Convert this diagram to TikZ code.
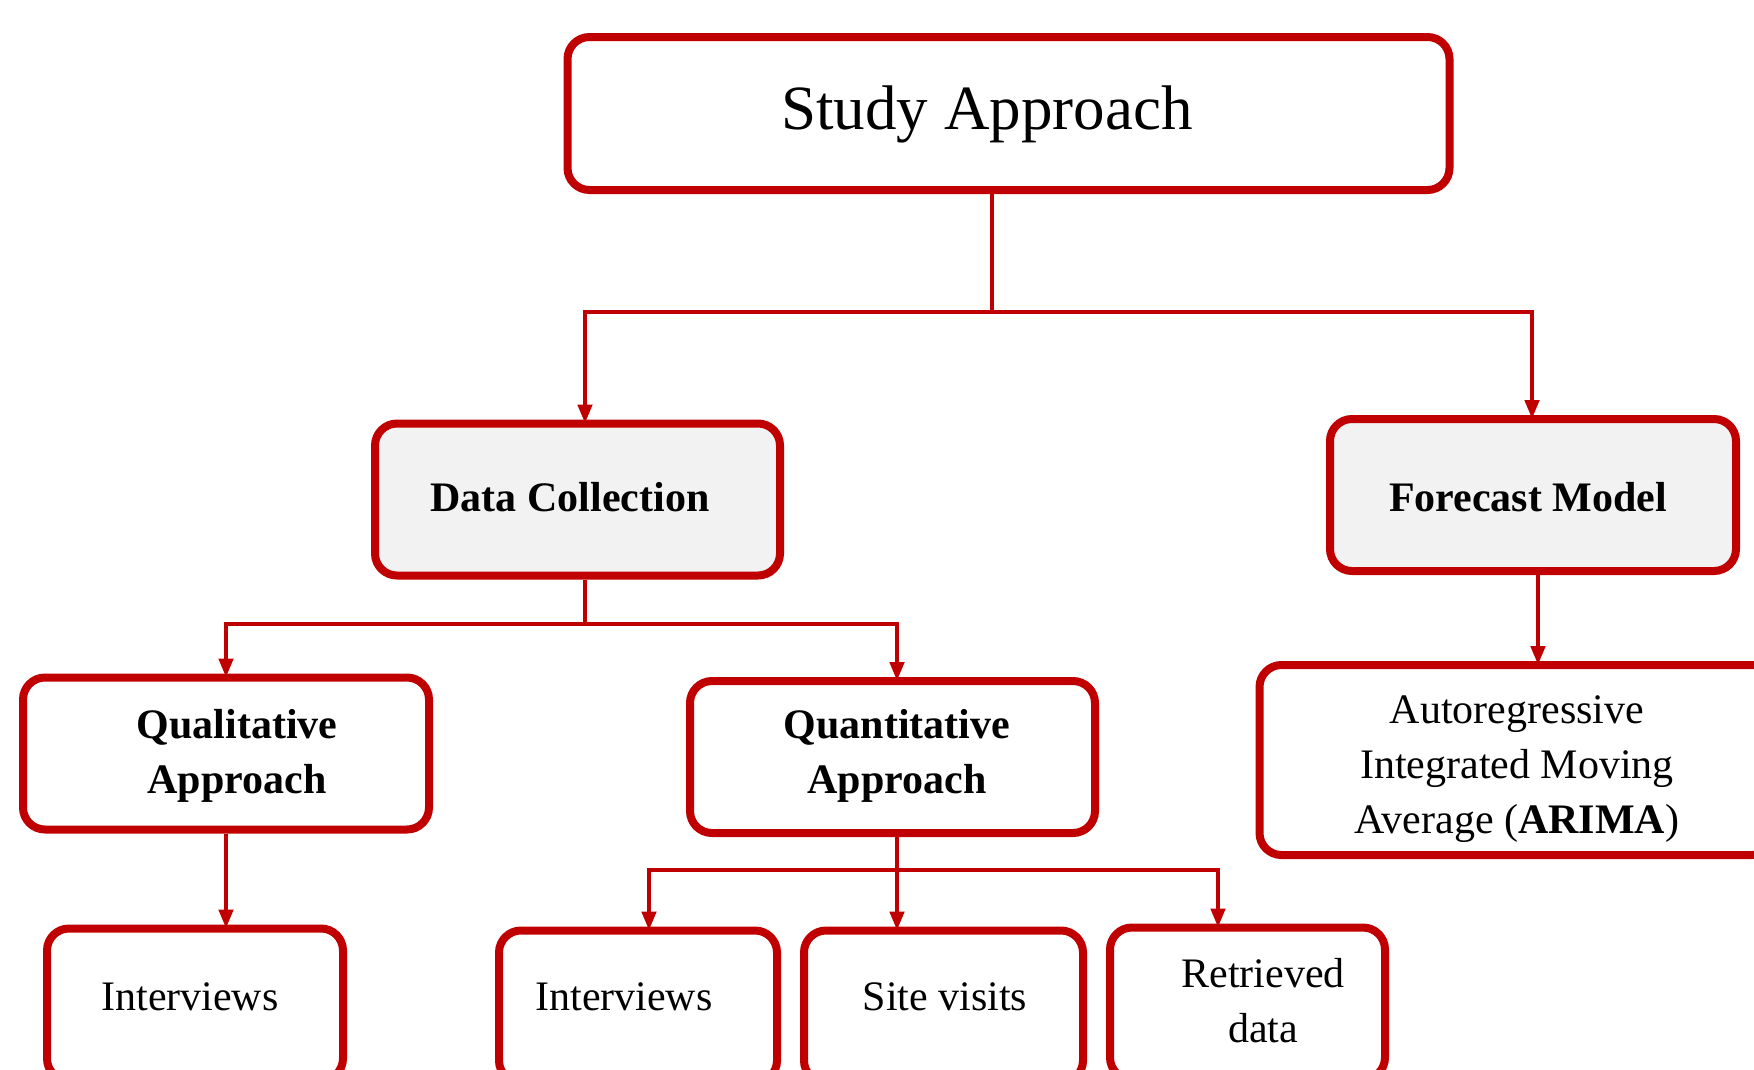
\documentclass[tikz,border=0pt]{standalone}
\usepackage{fontspec}
\setmainfont{Liberation Serif}
\usetikzlibrary{arrows.meta}
\definecolor{boxred}{HTML}{C00000}
\definecolor{boxgray}{HTML}{F2F2F2}
\begin{document}
\begin{tikzpicture}[x=1pt,y=-1pt,
  box/.style={draw=boxred, line width=8pt, rounded corners=22pt, fill=white,
    minimum width=#1, minimum height=152pt, inner sep=0pt},
  graybox/.style={box=#1, fill=boxgray},
  txt/.style={align=center, inner sep=0pt, font=\fontsize{42}{55}\selectfont},
  conn/.style={draw=boxred, line width=4.5pt},
  arr/.style={conn, -{Triangle[length=19pt,width=14pt]}}]
\useasboundingbox (0,0) rectangle (1754,1069);

% boxes
\node[box=882pt, minimum height=153pt] (sa) at (1008.5,113.5) {};
\node[graybox=405pt] (dc) at (577.5,499.5) {};
\node[graybox=406pt] (fm) at (1533,495) {};
\node[box=406pt] (ql) at (226,753.5) {};
\node[box=405pt] (qn) at (892.5,757) {};
\node[box=515pt, minimum height=190pt] (ar) at (1517,760) {};
\node[box=296pt] (i1) at (195,1004.5) {};
\node[box=278pt] (i2) at (638,1006.5) {};
\node[box=279pt] (sv) at (943.5,1006.5) {};
\node[box=275pt] (rd) at (1247.5,1003.5) {};

% labels
\node[txt, font=\fontsize{63}{75}\selectfont] (saT) at (987,114) {Study Approach};
\node[txt, font=\fontsize{42}{55}\selectfont\bfseries] (dcT) at (570,497) {Data Collection};
\node[txt, font=\fontsize{42}{55}\selectfont\bfseries] (fmT) at (1528,497) {Forecast Model};
\node[txt, font=\fontsize{42}{55}\selectfont\bfseries] (qlT) at (237,756) {Qualitative\\Approach};
\node[txt, font=\fontsize{42}{55}\selectfont\bfseries] (qnT) at (897,756) {Quantitative\\Approach};
\node[txt] (arT) at (1517,769) {Autoregressive\\Integrated Moving\\Average (\textbf{ARIMA})};
\node[txt] (i1T) at (190,997) {Interviews};
\node[txt] (i2T) at (624,997) {Interviews};
\node[txt] (svT) at (945,997) {Site visits};
\node[txt] (rdT) at (1263,1001) {Retrieved\\data};

% connectors
\coordinate (j1) at (992,312);
\coordinate (j2) at (585,624);
\coordinate (j3) at (897,870);
\draw[conn] (sa.south -| j1) -- (j1);
\draw[arr] (j1) -| ([yshift=-4pt]dc.north -| 585,0);
\draw[arr] (j1) -| ([yshift=-4pt]fm.north -| 1532,0);
\draw[conn] (dc.south -| j2) -- (j2);
\draw[arr] (j2) -| ([yshift=-4pt]ql.north -| 226,0);
\draw[arr] (j2) -| ([yshift=-4pt]qn.north -| 897,0);
\draw[arr] (fm.south -| 1538,0) -- ([yshift=-4pt]ar.north -| 1538,0);
\draw[arr] (ql.south -| 226,0) -- ([yshift=-4pt]i1.north -| 226,0);
\draw[arr] (qn.south -| j3) -- ([yshift=-4pt]sv.north -| j3);
\draw[arr] (j3) -| ([yshift=-4pt]i2.north -| 649,0);
\draw[arr] (j3) -| ([yshift=-4pt]rd.north -| 1218,0);
\end{tikzpicture}
\end{document}
